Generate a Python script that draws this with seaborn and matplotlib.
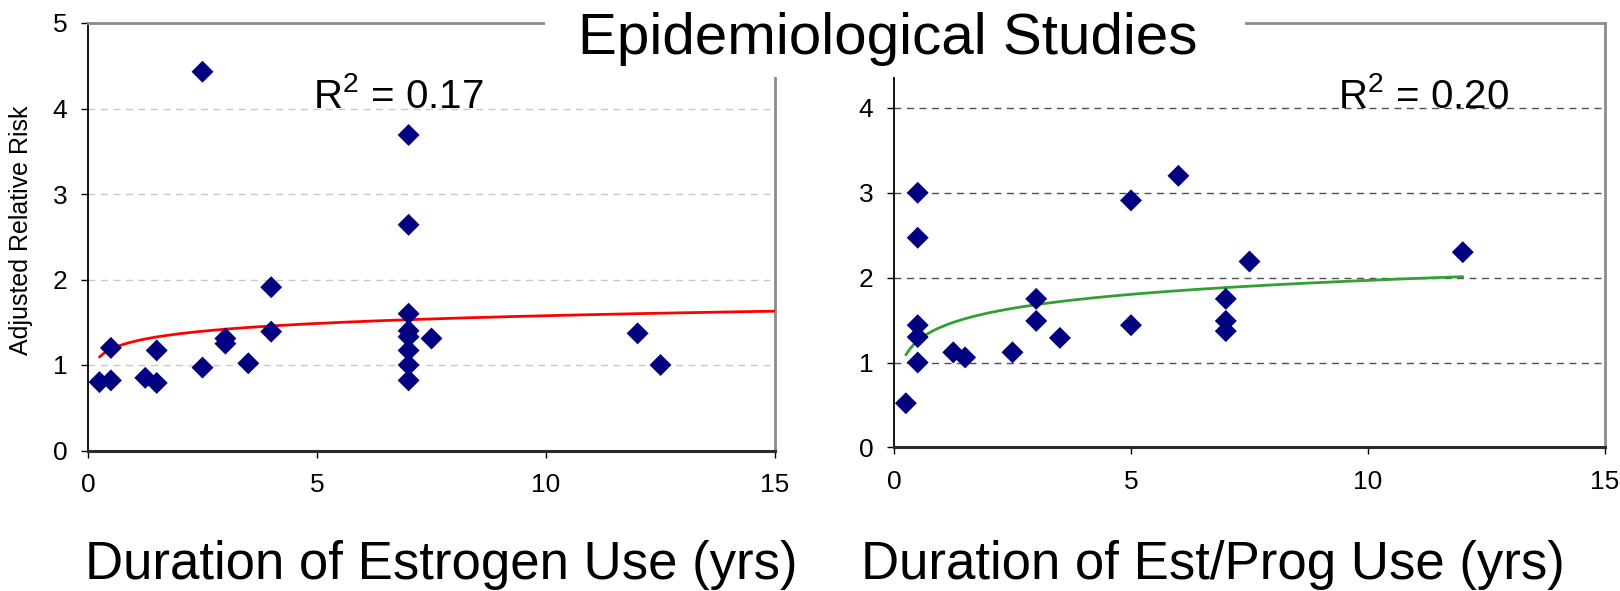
import numpy as np
import pandas as pd
import matplotlib
matplotlib.use("Agg")
import matplotlib.pyplot as plt
from matplotlib.patches import Rectangle
import seaborn as sns

# ---------------- data ----------------
est_years = [0.25, 0.5, 0.5, 1.25, 1.5, 1.5, 2.5, 2.5, 3, 3, 3.5, 4, 4,
             7, 7, 7, 7, 7, 7, 7, 7, 7.5, 12, 12.5]
est_risk = [0.80, 0.82, 1.20, 0.85, 0.79, 1.17, 4.43, 0.97, 1.31, 1.25, 1.02, 1.91, 1.39,
            3.69, 2.64, 1.60, 1.40, 1.33, 1.17, 1.00, 0.82, 1.31, 1.37, 1.00]

ep_years = [0.25, 0.5, 0.5, 0.5, 0.5, 0.5, 1.25, 1.5, 2.5, 3, 3, 3.5,
            5, 5, 6, 7, 7, 7, 7.5, 12]
ep_risk = [0.52, 3.00, 2.47, 1.44, 1.30, 1.00, 1.12, 1.06, 1.12, 1.75, 1.49, 1.29,
           2.91, 1.44, 3.20, 1.75, 1.49, 1.37, 2.19, 2.30]

# logarithmic trend lines as drawn in the chart: risk = intercept + slope * ln(years)
est_trend_coef = (1.275, 0.131)
est_trend_range = (0.25, 15)
ep_trend_coef = (1.42, 0.238)
ep_trend_range = (0.25, 12)

x_ticks = [0, 5, 10, 15]
y_ticks_left = [0, 1, 2, 3, 4, 5]
y_ticks_right = [0, 1, 2, 3, 4]
r2_labels = [r"R$^{2}$ = 0.17", r"R$^{2}$ = 0.20"]
x_titles = ["Duration of Estrogen Use (yrs)", "Duration of Est/Prog Use (yrs)"]
y_title = "Adjusted Relative Risk"
main_title = "Epidemiological Studies"

# ---------------- style ----------------
sns.set_theme(style="white")
plt.rcParams["font.family"] = ["Liberation Sans", "DejaVu Sans"]
plt.rcParams["mathtext.fontset"] = "custom"
plt.rcParams["mathtext.rm"] = "Liberation Sans"
plt.rcParams["mathtext.it"] = "Liberation Sans"
plt.rcParams["mathtext.default"] = "regular"
plt.rcParams["xtick.labelsize"] = 19
plt.rcParams["ytick.labelsize"] = 19

W, H = 1620, 591
fig = plt.figure(figsize=(W / 100, H / 100), dpi=100)
fig.patch.set_facecolor("white")

ax1 = fig.add_axes([88 / W, 1 - 450.5 / H, 687 / W, 427.5 / H])
ax2 = fig.add_axes([894 / W, 1 - 447.4 / H, 711 / W, 424.4 / H])

navy = "#000080"


def trend_line(ax, coef, xr, color):
    a, b = coef
    grid = np.linspace(xr[0], xr[1], 150)
    df = pd.DataFrame({"x": grid, "y": a + b * np.log(grid)})
    sns.lineplot(data=df, x="x", y="y", ax=ax, color=color, lw=2, zorder=3)


panels = [
    (ax1, est_years, est_risk, est_trend_coef, est_trend_range, "#ff0000",
     y_ticks_left, "#c8c8c8", 6.77, r2_labels[0]),
    (ax2, ep_years, ep_risk, ep_trend_coef, ep_trend_range, "#33a033",
     y_ticks_right, "#505050", 11.16, r2_labels[1]),
]

for i, (ax, xs, ys, coef, xr, lcol, yt, gcol, r2x, r2) in enumerate(panels):
    ax.set_xlim(0, 15)
    ax.set_ylim(0, 5)
    ax.set_facecolor("white")
    ax.yaxis.grid(True, linestyle=(0, (5, 4)), color=gcol, lw=1)
    ax.xaxis.grid(False)
    ax.set_axisbelow(True)
    trend_line(ax, coef, xr, lcol)
    sns.scatterplot(x=xs, y=ys, ax=ax, marker="D", s=125, color=navy,
                    edgecolor="none", linewidth=0, zorder=4)
    ax.set_xlabel("")
    ax.set_ylabel("")
    ax.set_xticks(x_ticks)
    ax.set_yticks(yt)
    ax.set_xticklabels([str(t) for t in x_ticks], fontsize=19)
    ax.set_yticklabels([str(t) for t in yt], fontsize=19)
    ax.tick_params(axis="both", direction="out", length=5, width=1, colors="black")
    ax.tick_params(axis="x", pad=11, bottom=True)
    ax.tick_params(axis="y", pad=10, left=True)
    ax.spines["left"].set_color("black")
    ax.spines["left"].set_linewidth(1.3)
    ax.spines["bottom"].set_color("#2a2a2a")
    ax.spines["bottom"].set_linewidth(2.2)
    for s in ["top", "right"]:
        ax.spines[s].set_color("#8c8c8c")
        ax.spines[s].set_linewidth(2)
        ax.spines[s].set_visible(True)
    ax.text(r2x, 4.0, r2, ha="center", va="baseline", fontsize=29, color="black", zorder=5)
    ax.set_xlabel(x_titles[i], fontsize=38, color="black")

ax1.xaxis.set_label_coords((441 - 88) / 687, (450.5 - 540) / 427.5)
ax2.xaxis.set_label_coords((1213 - 894) / 711, (447.4 - 540) / 424.4)
ax1.set_ylabel(y_title, fontsize=18, color="black")
ax1.yaxis.set_label_coords((33 - 88) / 687, (450.5 - 230) / 427.5)

# white panel behind the title, covering the frame lines
fig.add_artist(Rectangle((545 / W, 1 - 77 / H), 700 / W, 77 / H,
                         transform=fig.transFigure, facecolor="white",
                         edgecolor="none", zorder=5))
fig.text(888 / W, 1 - 54 / H, main_title, ha="center", va="baseline",
         fontsize=42, color="black", zorder=6)

fig.savefig("out.png", dpi=100)
